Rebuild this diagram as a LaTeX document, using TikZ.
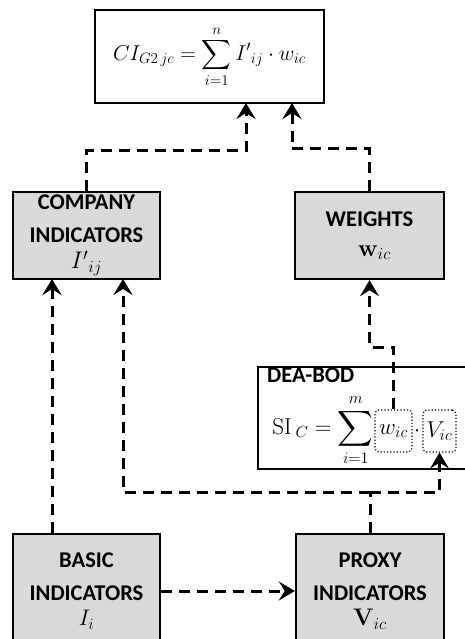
\RequirePackage{fix-cm}
\documentclass[tikz,border=0pt]{standalone}
\usepackage{amsmath}
\usepackage[no-math]{fontspec}
\setmainfont{Carlito}
\usetikzlibrary{arrows.meta}
\definecolor{boxgray}{RGB}{217,217,217}
\newcommand{\mathbig}[1]{{\fontsize{24}{25}\selectfont$#1$}}

\begin{document}
\begin{tikzpicture}[x=1pt,y=-1pt,
  block/.style={draw=black, line width=2.4pt, fill=boxgray, inner sep=0pt,
    align=center, font=\fontsize{22.5}{25}\selectfont\bfseries},
  formulabox/.style={draw=black, line width=2.4pt, fill=white, inner sep=0pt},
  slot/.style={draw=black, dotted, line width=1.2pt, rounded corners=4pt,
    inner sep=0pt, minimum height=42pt, font=\fontsize{23}{25}\selectfont},
  link/.style={line width=3pt, dash pattern=on 11pt off 7pt},
  flow/.style={link, -{Stealth[length=16pt,width=19pt,inset=6pt]}}]

\useasboundingbox (0,0) rectangle (465,639);

% result box
\node[formulabox, minimum width=229pt, minimum height=93pt] (top) at (209.5,56.5)
  {\fontsize{21.5}{24}\selectfont$\displaystyle CI_{G2\,jc} = \sum_{i=1}^{n} {I'}_{ij}\cdot w_{ic}$};

% input and intermediate blocks
\node[block, minimum width=147pt, minimum height=87pt] (comp) at (86.5,235.5)
  {COMPANY\\[8pt]INDICATORS\\[1pt]\mathbig{{I'}_{ij}}};
\node[block, minimum width=149pt, minimum height=87pt] (weights) at (369.5,235.5)
  {WEIGHTS\\[5pt]\hspace*{10pt}\mathbig{\mathbf{w}_{ic}}};
\node[block, minimum width=147pt, minimum height=114pt] (basic) at (86.5,591)
  {BASIC\\[8pt]INDICATORS\\$I_i$};
\node[block, minimum width=148pt, minimum height=114pt] (proxy) at (370,591)
  {PROXY\\[8pt]INDICATORS\\\mathbig{\mathbf{V}_{ic}}};

% DEA-BOD model
\node[formulabox, minimum width=209pt, minimum height=102pt] (dea) at (362.5,418) {};
\node[anchor=north west, inner sep=0pt, font=\fontsize{22.5}{25}\selectfont\bfseries]
  (dealabel) at (267,368) {DEA-BOD};
\node[anchor=east, inner sep=0pt, font=\fontsize{23}{25}\selectfont] (si) at (374,430)
  {$\displaystyle \mathrm{SI}\,_{C} = \sum_{i=1}^{m}$};
\node[slot, minimum width=37pt] (wbox) at (393.5,431) {$w_{ic}$};
\node[slot, minimum width=33pt] (vbox) at (439.5,431) {$V_{ic}$};
\node[inner sep=0pt, font=\fontsize{23}{25}\selectfont] (dot) at (417,431) {$\cdot$};

% helper levels for the dashed routes
\coordinate (yA) at (0,151);
\coordinate (yB) at (0,149);
\coordinate (yC) at (0,347);
\coordinate (t1) at (246,103);
\coordinate (t2) at (292,103);
\coordinate (c1) at (52,279);
\coordinate (c2) at (123,279);
\coordinate (split) at (370,492);

% dashed connectors
\draw[flow] (comp.north) -- (comp.north |- yA) -| (t1);
\draw[flow] (weights.north) -- (weights.north |- yB) -| (t2);
\draw[flow] (basic.north -| c1) -- (c1);
\draw[link] (proxy.north) -- (split);
\draw[flow] (split) -| (c2);
\draw[flow] (split) -| (vbox.south);
\draw[flow] (wbox.north) -- (wbox.north |- yC) -| (weights.south);
\draw[flow] (basic.east) -- (proxy.west);
\end{tikzpicture}
\end{document}
